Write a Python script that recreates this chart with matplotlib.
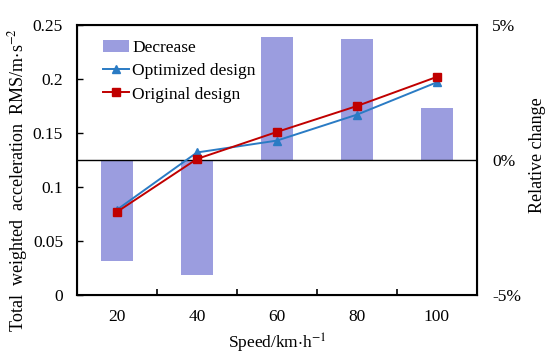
import matplotlib.pyplot as plt
import matplotlib.ticker as mticker

speeds = ["20", "40", "60", "80", "100"]
optimized = [0.079, 0.132, 0.143, 0.167, 0.197]
original = [0.077, 0.126, 0.151, 0.175, 0.202]
decrease = [-3.74, -4.26, 4.56, 4.48, 1.93]

plt.rcParams["font.family"] = ["Liberation Serif", "DejaVu Serif"]
plt.rcParams["mathtext.fontset"] = "stix"


def main():
    fig = plt.figure(figsize=(5.5, 3.58), dpi=100)
    ax = fig.add_axes([0.14, 0.176, 0.727, 0.754])
    ax2 = ax.twinx()
    x = list(range(len(speeds)))

    bars = ax2.bar(x, decrease, width=0.4, color="#9b9ddf", label="Decrease")
    ax2.axhline(0, color="black", lw=1.0)
    ax2.set_ylim(-5, 5)
    ax2.set_yticks([-5, 0, 5])
    ax2.yaxis.set_major_formatter(mticker.FuncFormatter(lambda v, p: f"{v:.0f}%"))
    ax2.tick_params(axis="y", direction="in", length=0, labelsize=12.5, pad=11)
    ax2.set_ylabel("Relative change", fontsize=13, rotation=90)
    ax2.yaxis.set_label_coords(1.152, 0.52)
    ax2.yaxis.label.set_va("center")
    ax2.yaxis.label.set_ha("center")

    ax.set_zorder(ax2.get_zorder() + 1)
    ax.patch.set_visible(False)
    l1, = ax.plot(x, optimized, color="#2a7bc4", marker="^", ms=6, lw=1.4,
                  label="Optimized design")
    l2, = ax.plot(x, original, color="#c00000", marker="s", ms=6, lw=1.4,
                  label="Original design")

    ax.set_xlim(-0.5, len(speeds) - 0.5)
    ax.set_ylim(0, 0.25)
    ax.set_yticks([0, 0.05, 0.1, 0.15, 0.2, 0.25])
    ax.set_yticklabels(["0", "0.05", "0.1", "0.15", "0.2", "0.25"])
    ax.set_xticks(x)
    ax.set_xticklabels(speeds)
    ax.set_xticks([i + 0.5 for i in x[:-1]], minor=True)
    ax.tick_params(axis="x", which="major", length=0, labelsize=12.5, pad=10)
    ax.tick_params(axis="x", which="minor", direction="in", length=4, width=1.2)
    ax.tick_params(axis="y", direction="in", length=4, width=1.0, labelsize=12.5, pad=10)
    for sp in ax.spines.values():
        sp.set_linewidth(1.5)
    ax.set_xlabel(r"Speed/km$\cdot$h$^{-1}$", fontsize=12.5, labelpad=5)
    ax.set_ylabel(r"Total  weighted  acceleration  RMS/m$\cdot$s$^{-2}$", fontsize=13)
    ax.yaxis.set_label_coords(-0.147, 0.426)
    ax.yaxis.label.set_va("center")
    ax.yaxis.label.set_ha("center")

    ax.legend([bars, l1, l2], ["Decrease", "Optimized design", "Original design"],
              loc="upper left", bbox_to_anchor=(0.04, 0.985), frameon=False,
              fontsize=12.5, handlelength=1.45, handletextpad=0.2, labelspacing=0.42,
              borderaxespad=0.2)

    fig.savefig("out.png", dpi=100)


if __name__ == "__main__":
    main()
